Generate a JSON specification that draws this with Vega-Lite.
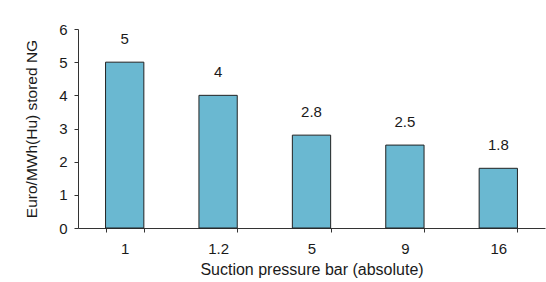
{
  "$schema": "https://vega.github.io/schema/vega-lite/v6.json",
  "autosize": {"type": "none"},
  "padding": {"left": 78, "top": 29, "right": 1, "bottom": 54},
  "width": 467,
  "height": 199,
  "background": "white",
  "config": {
    "view": {"stroke": null},
    "font": "Liberation Sans",
    "axis": {
      "labelFont": "Liberation Sans",
      "titleFont": "Liberation Sans",
      "labelFontSize": 15,
      "titleFontSize": 15.5,
      "titleFontWeight": "normal",
      "labelColor": "#1a1a1a",
      "titleColor": "#1a1a1a",
      "domainColor": "#333333",
      "tickColor": "#333333",
      "grid": false,
      "tickSize": 4
    }
  },
  "data": {
    "values": [
      {"pressure": "1", "cost": 5, "label": "5"},
      {"pressure": "1.2", "cost": 4, "label": "4"},
      {"pressure": "5", "cost": 2.8, "label": "2.8"},
      {"pressure": "9", "cost": 2.5, "label": "2.5"},
      {"pressure": "16", "cost": 1.8, "label": "1.8"}
    ]
  },
  "encoding": {
    "x": {
      "field": "pressure",
      "type": "nominal",
      "sort": null,
      "title": "Suction pressure bar (absolute)",
      "scale": {"paddingInner": 0.59, "paddingOuter": 0.295},
      "axis": {"labelAngle": 0, "tickBand": "extent", "labelPadding": 9, "titlePadding": 5, "titleFontSize": 16}
    },
    "y": {
      "field": "cost",
      "type": "quantitative",
      "title": "Euro/MWh(Hu) stored NG",
      "scale": {"domain": [0, 6], "nice": false},
      "axis": {"values": [0, 1, 2, 3, 4, 5, 6], "labelPadding": 7, "titlePadding": 19}
    }
  },
  "layer": [
    {
      "mark": {"type": "bar", "fill": "#6AB8D1", "stroke": "#222222", "strokeWidth": 1}
    },
    {
      "mark": {"type": "text", "baseline": "alphabetic", "dy": -18, "fontSize": 15, "color": "#1a1a1a", "font": "Liberation Sans"},
      "encoding": {"text": {"field": "label"}}
    }
  ]
}
